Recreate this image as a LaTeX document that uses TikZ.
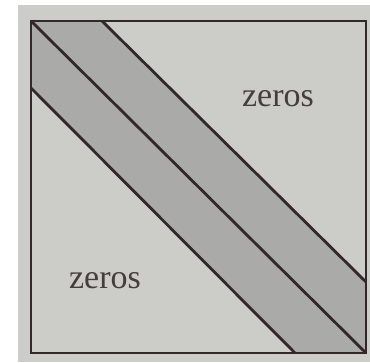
\documentclass[tikz,border=0pt]{standalone}
\usepackage{fontspec}
\setmainfont{Liberation Serif}
\usepackage{tikz}
\usetikzlibrary{positioning, calc}
\definecolor{paper}{RGB}{204, 204, 200}
\definecolor{bandgray}{RGB}{170, 170, 168}
\definecolor{ink}{RGB}{50, 40, 40}

\tikzset{
  edge/.style={draw=ink, line width=2.8pt},
  bandfill/.style={fill=bandgray},
  zlabel/.style={font=\fontsize{34}{38}\selectfont, text=ink!90}
}

\begin{document}
\begin{tikzpicture}[x=1pt, y=1pt]
  \useasboundingbox (0,0) rectangle (370,363);
  % photo of the page
  \fill[paper] (18,1) rectangle (370,358);

  % corners of the matrix
  \coordinate (tl) at (31,342);
  \coordinate (tr) at (366,342);
  \coordinate (bl) at (31,10);
  \coordinate (br) at (366,10);

  % ends of the band edges
  \coordinate (uptop) at (102,342);
  \coordinate (upright) at (366,81);
  \coordinate (lowleft) at (31,275);
  \coordinate (lowbot) at (295,10);

  % the band
  \fill[bandfill] (tl) -- (uptop) -- (upright) -- (br) -- (lowbot) -- (lowleft) -- cycle;

  \draw[edge] (uptop) -- (upright);
  \draw[edge] (tl) -- (br);
  \draw[edge] (lowleft) -- (lowbot);
  \draw[edge] (tl) rectangle (br);

  \node[zlabel] (zup) at (278,264) {zeros};
  \node[zlabel] (zlow) at (105,82) {zeros};
\end{tikzpicture}
\end{document}
